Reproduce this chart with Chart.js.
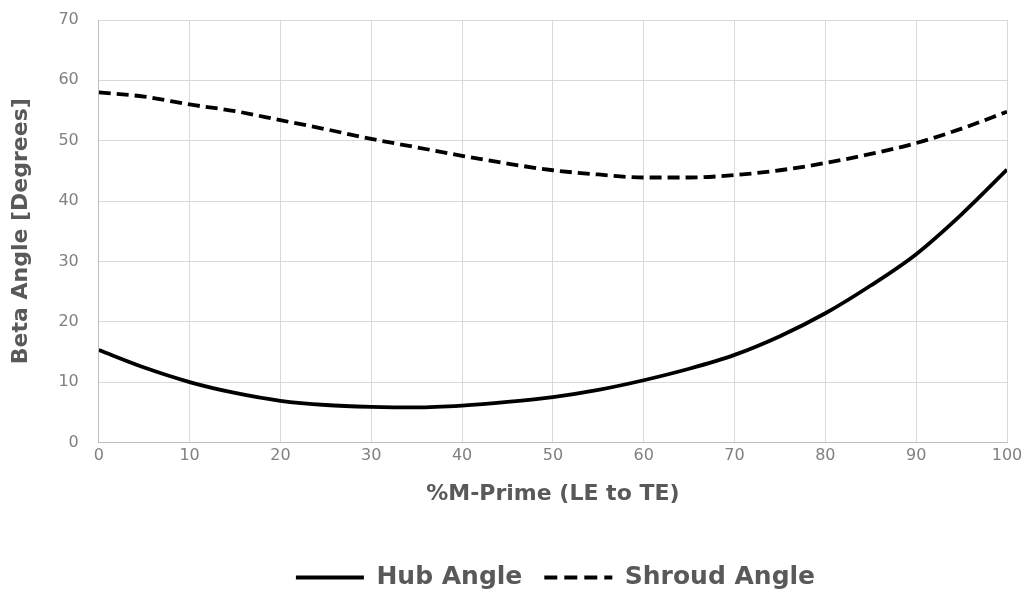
<!DOCTYPE html>
<html>
<head>
<meta charset="utf-8">
<script src="https://cdn.jsdelivr.net/npm/chart.js@4/dist/chart.umd.min.js"></script>
<style>
  html, body { margin: 0; padding: 0; background: #fff; }
  #wrap { width: 1031px; height: 594px; position: relative; }
</style>
</head>
<body>
<div id="wrap"><canvas id="chart"></canvas></div>
<script>
// % M-prime positions (LE to TE)
const mPrime = [0, 5, 10, 15, 20, 25, 30, 35, 40, 45, 50, 55, 60, 65, 70, 75, 80, 85, 90, 95, 100];
// beta angles
const hubAngle = [15.3, 12.4, 10.0, 8.2, 6.9, 6.2, 5.9, 5.8, 6.1, 6.7, 7.5, 8.7, 10.3, 12.2, 14.5, 17.6, 21.4, 26.0, 31.2, 37.8, 45.2];
const shroudAngle = [58.0, 57.3, 56.0, 54.9, 53.4, 51.9, 50.3, 48.9, 47.5, 46.2, 45.1, 44.4, 43.9, 43.9, 44.3, 45.1, 46.3, 47.8, 49.6, 52.0, 54.8];

const grey = "#808080";
const titleGrey = "#595959";
const fam = "DejaVu Sans";

// nudge the legend right and down, as in the original
const legendShift = {
  id: "legendShift",
  afterLayout(chart) {
    chart.legend.left += 48;
    chart.legend.right += 48;
    chart.legend.top += 6;
    chart.legend.bottom += 6;
  },
};

new Chart(document.getElementById("chart"), {
  type: "line",
  data: {
    datasets: [
      {
        label: "Hub Angle",
        data: mPrime.map((x, i) => ({ x: x, y: hubAngle[i] })),
        borderColor: "#000",
        backgroundColor: "#000",
        borderWidth: 3.8,
        pointRadius: 0,
        cubicInterpolationMode: "monotone",
        pointStyle: "line",
      },
      {
        label: "Shroud Angle",
        data: mPrime.map((x, i) => ({ x: x, y: shroudAngle[i] })),
        borderColor: "#000",
        backgroundColor: "#000",
        borderWidth: 3.8,
        borderDash: [12, 6],
        pointRadius: 0,
        cubicInterpolationMode: "monotone",
        pointStyle: "line",
      },
    ],
  },
  plugins: [legendShift],
  options: {
    responsive: true,
    maintainAspectRatio: false,
    animation: false,
    layout: { padding: { left: 8, right: 24, top: 20, bottom: 0 } },
    plugins: {
      tooltip: { enabled: false },
      legend: {
        position: "bottom",
        labels: {
          usePointStyle: true,
          pointStyleWidth: 68,
          boxHeight: 20,
          padding: 22,
          color: titleGrey,
          font: { family: fam, size: 25, weight: "bold" },
          generateLabels: (chart) => {
            const items = Chart.defaults.plugins.legend.labels.generateLabels(chart);
            items.forEach((it) => {
              const ds = chart.data.datasets[it.datasetIndex];
              it.lineDash = ds.borderDash ? [13, 7] : [];
              it.lineWidth = 4;
            });
            return items;
          },
        },
      },
    },
    scales: {
      x: {
        type: "linear",
        min: 0,
        max: 100,
        ticks: { stepSize: 10, color: grey, font: { family: fam, size: 16 }, padding: 4 },
        grid: { color: "#d9d9d9", lineWidth: 1, drawTicks: false },
        border: { color: "#bfbfbf" },
        title: {
          display: true,
          text: "%M-Prime (LE to TE)",
          color: titleGrey,
          font: { family: fam, size: 22, weight: "bold" },
          padding: { top: 11, bottom: 30 },
        },
      },
      y: {
        min: 0,
        max: 70,
        ticks: { stepSize: 10, color: grey, font: { family: fam, size: 16 }, padding: 20 },
        grid: { color: "#d9d9d9", lineWidth: 1, drawTicks: false },
        border: { color: "#bfbfbf" },
        afterFit: (scale) => {
          scale.paddingTop = 0;
          scale.paddingBottom = 0;
        },
        title: {
          display: true,
          text: "Beta Angle [Degrees]",
          color: titleGrey,
          font: { family: fam, size: 22, weight: "bold" },
          padding: { top: 0, bottom: 4 },
        },
      },
    },
  },
});
</script>
</body>
</html>
